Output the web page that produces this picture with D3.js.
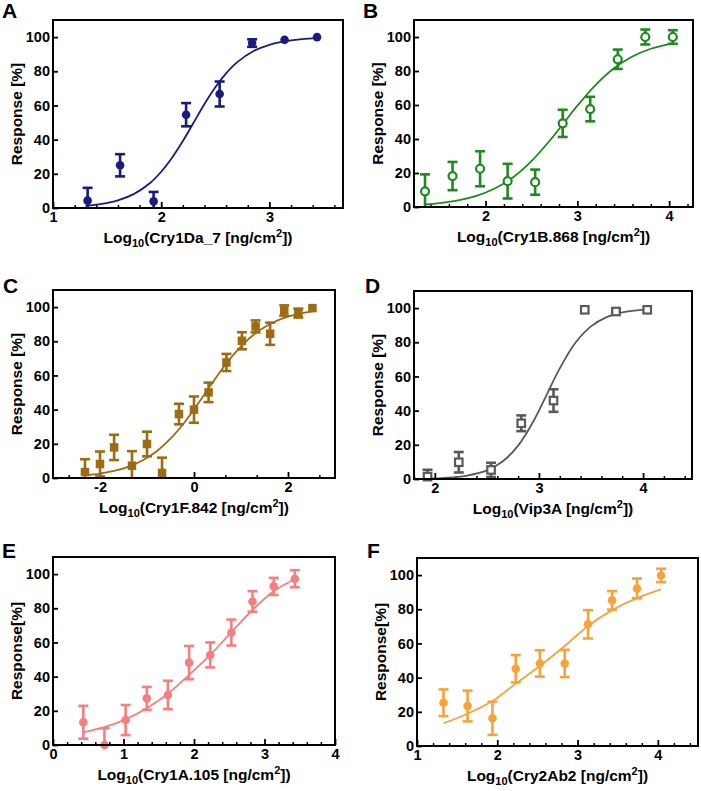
<!DOCTYPE html>
<html><head><meta charset="utf-8">
<script src="https://cdn.jsdelivr.net/npm/d3@7"></script>
<style>
html,body{margin:0;padding:0;background:#fff;}
svg text{font-family:"Liberation Sans",Arial,sans-serif;font-weight:bold;fill:#000;}
</style></head>
<body>
<svg id="chart" width="701" height="791"></svg>
<script>
// ---------- data ----------
const yTicks = [0, 20, 40, 60, 80, 100];

const aX   = [1.32, 1.62, 1.93, 2.23, 2.54, 2.84, 3.14, 3.44];
const aY   = [4.3, 25, 3.9, 54.6, 66.7, 96.5, 98.4, 100];
const aErr = [7.5, 6.5, 5.5, 6.8, 7.3, 2.2, 0, 0];
const aCurveX = [1.3,1.45,1.6,1.75,1.9,2.0,2.1,2.2,2.3,2.4,2.5,2.6,2.7,2.85,3.0,3.15,3.3,3.45];
const aCurveY = [1.24,2.37,4.47,8.27,14.8,21.2,29.4,39.2,50,60.8,70.6,78.8,85.2,91.7,95.5,97.6,98.8,99.35];
const aTicks = [1, 2, 3];

const bX   = [1.34, 1.64, 1.94, 2.24, 2.54, 2.84, 3.14, 3.44, 3.74, 4.04];
const bY   = [9.2, 18.2, 22.5, 15.2, 14.6, 49.2, 57.6, 86.9, 100, 100];
const bErr = [10, 8.3, 10.3, 10.2, 7.4, 8, 7.2, 5.7, 4.4, 4];
const bCurveX = [1.34,1.5,1.7,1.9,2.1,2.3,2.5,2.7,2.86,3.0,3.2,3.4,3.6,3.8,4.04];
const bCurveY = [1.48,2.28,3.9,6.6,10.9,17.5,27,39.1,50,59.6,71.9,81.6,88.5,93.1,96.3];
const bTicks = [2, 3, 4];

const cX   = [-2.32, -2.0, -1.7, -1.32, -1.0, -0.68, -0.32, 0, 0.31, 0.69, 1.02, 1.31, 1.62, 1.92, 2.22, 2.52];
const cY   = [3.5, 8.2, 17.9, 7.2, 19.9, 2.9, 37.4, 40, 50.1, 67.6, 80.3, 88.7, 84.4, 98, 96.5, 99.4];
const cErr = [7.5, 7.3, 7.4, 8.5, 7.2, 9, 6, 7.7, 5.7, 5, 5, 3.5, 6.5, 3, 2.6, 0];
const cCurveX = [-2.32,-2.0,-1.7,-1.4,-1.1,-0.8,-0.5,-0.2,0.1,0.4,0.7,1.0,1.3,1.6,1.9,2.2,2.52];
const cCurveY = [1.57,2.59,4.13,6.54,10.2,15.5,23.0,32.6,44.0,56.0,67.4,77.0,84.5,89.8,93.5,95.9,97.5];
const cTicks = [-2, 0, 2];

const dX   = [1.93, 2.23, 2.54, 2.83, 3.14, 3.44, 3.74, 4.04];
const dY   = [1.4, 9.8, 5.3, 32.6, 45.9, 99, 98, 99];
const dErr = [4, 6, 4.2, 4.6, 6.6, 0, 1, 0];
const dCurveX = [1.93,2.1,2.3,2.5,2.65,2.8,2.95,3.08,3.2,3.35,3.5,3.65,3.8,4.04];
const dCurveY = [0.29,0.69,1.89,5.0,10.2,19.5,34.1,50,64.7,79.7,89.3,94.7,97.5,99.2];
const dTicks = [2, 3, 4];

const eX   = [0.43, 0.73, 1.03, 1.33, 1.63, 1.93, 2.23, 2.53, 2.83, 3.13, 3.43];
const eY   = [13.3, 0, 14.6, 27.3, 29.3, 48.2, 52.7, 65.8, 84, 92.8, 97.3];
const eErr = [9.6, 9.8, 8.8, 6.7, 8.3, 9.7, 7.3, 7.6, 6, 5, 5];
const eCurveX = [0.43,0.73,1.03,1.33,1.63,1.93,2.23,2.53,2.83,3.13,3.43];
const eCurveY = [7.4,10.4,15,21.5,30,41,52.7,66,79,90,97];
const eTicks = [0, 1, 2, 3, 4];

const fX   = [1.33, 1.63, 1.94, 2.23, 2.53, 2.84, 3.13, 3.43, 3.74, 4.04];
const fY   = [25.3, 23.4, 16.2, 45.2, 48.3, 48.3, 71.2, 85.2, 92.2, 99.8];
const fErr = [7.8, 9, 9.7, 8, 7.7, 8, 8.3, 5.4, 5.8, 3.9];
const fCurveX = [1.33,1.63,1.94,2.23,2.53,2.84,3.13,3.43,3.74,4.04];
const fCurveY = [13.3,18.9,26.3,36.5,46.8,58.5,70.2,79.5,86.5,91.6];
const fTicks = [1, 2, 3, 4];

// ---------- panels ----------
const panels = [
  {id:"A", x:aX, y:aY, err:aErr, cx:aCurveX, cy:aCurveY, ticks:aTicks, xdom:[1,3.68], minorStep:0.2,
   color:"#1b1b7d", marker:"circle", fill:true, agent:"Cry1Da_7", ylab:"Response [%]",
   box:{l:53, r:343, t:20, b:208}, letter:[2,18]},
  {id:"B", x:bX, y:bY, err:bErr, cx:bCurveX, cy:bCurveY, ticks:bTicks, xdom:[1.22,4.26], minorStep:0.2,
   color:"#1f8a1f", marker:"circle", fill:false, agent:"Cry1B.868", ylab:"Response [%]",
   box:{l:414, r:693, t:20, b:207}, letter:[363,18]},
  {id:"C", x:cX, y:cY, err:cErr, cx:cCurveX, cy:cCurveY, ticks:cTicks, xdom:[-3,3], minorStep:2/3,
   color:"#9c6b12", marker:"square", fill:true, agent:"Cry1F.842", ylab:"Response [%]",
   box:{l:53, r:335, t:290, b:478}, letter:[3,293]},
  {id:"D", x:dX, y:dY, err:dErr, cx:dCurveX, cy:dCurveY, ticks:dTicks, xdom:[1.8,4.47], minorStep:0.2,
   color:"#595959", marker:"square", fill:false, agent:"Vip3A", ylab:"Response [%]",
   box:{l:414, r:692, t:291, b:479}, letter:[365,293]},
  {id:"E", x:eX, y:eY, err:eErr, cx:eCurveX, cy:eCurveY, ticks:eTicks, xdom:[0,4], minorStep:0.2,
   color:"#f47f7f", marker:"circle", fill:true, agent:"Cry1A.105", ylab:"Response[%]",
   box:{l:53, r:335, t:557, b:745}, letter:[2,558]},
  {id:"F", x:fX, y:fY, err:fErr, cx:fCurveX, cy:fCurveY, ticks:fTicks, xdom:[1,4.5], minorStep:0.2,
   color:"#f6a43a", marker:"circle", fill:true, agent:"Cry2Ab2", ylab:"Response[%]",
   box:{l:417, r:698, t:558, b:746}, letter:[367,558]}
];

const svg = d3.select("#chart");
const fmtTick = d => String(d);   // plain hyphen-minus, as in the reference

panels.forEach(p => {
  const {l, r, t, b} = p.box;
  const xs = d3.scaleLinear().domain(p.xdom).range([l, r]);
  const ys = d3.scaleLinear().domain([0, 110]).range([b, t]);
  const g = svg.append("g");

  // minor ticks
  const minor = [];
  const start = Math.ceil((p.xdom[0] - 1e-6) / p.minorStep);
  for (let k = start; k * p.minorStep <= p.xdom[1] + 1e-6; k++) {
    const v = k * p.minorStep;
    if (!p.ticks.some(tv => Math.abs(tv - v) < 1e-6)) minor.push(v);
  }
  g.append("g").attr("transform", `translate(0,${b})`)
    .call(d3.axisBottom(xs).tickValues(minor).tickSize(-3).tickFormat(""))
    .call(s => s.select(".domain").remove())
    .call(s => s.selectAll("line").attr("stroke", "#000").attr("stroke-width", 1.5));

  // major x ticks
  g.append("g").attr("transform", `translate(0,${b})`)
    .call(d3.axisBottom(xs).tickValues(p.ticks).tickSize(-6).tickPadding(4).tickFormat(fmtTick))
    .call(s => s.select(".domain").remove())
    .call(s => s.selectAll("line").attr("stroke", "#000").attr("stroke-width", 1.8))
    .call(s => s.selectAll("text").attr("font-size", 14.5).attr("font-family", null).attr("fill", "#000"));

  // y ticks
  g.append("g").attr("transform", `translate(${l},0)`)
    .call(d3.axisLeft(ys).tickValues(yTicks).tickSize(-5).tickPadding(3).tickFormat(fmtTick))
    .call(s => s.select(".domain").remove())
    .call(s => s.selectAll("line").attr("stroke", "#000").attr("stroke-width", 1.8))
    .call(s => s.selectAll("text").attr("font-size", 14.5).attr("font-family", null).attr("fill", "#000"));

  // fitted curve
  const line = d3.line().x((d, i) => xs(p.cx[i])).y(d => ys(d)).curve(d3.curveCatmullRom.alpha(0.5));
  g.append("path").attr("d", line(p.cy)).attr("fill", "none")
    .attr("stroke", p.color).attr("stroke-width", 1.8);

  // error bars
  const cap = 5;
  p.x.forEach((xv, i) => {
    const e = p.err[i];
    if (e <= 0) return;
    const px = xs(xv);
    const y1 = ys(Math.min(110, p.y[i] + e));
    const y0 = ys(Math.max(0, p.y[i] - e));
    const eg = g.append("g").attr("stroke", p.color).attr("stroke-width", 2.6);
    eg.append("line").attr("x1", px).attr("x2", px).attr("y1", y1).attr("y2", y0);
    eg.append("line").attr("x1", px - cap).attr("x2", px + cap).attr("y1", y1).attr("y2", y1);
    if (p.y[i] - e > 0)
      eg.append("line").attr("x1", px - cap).attr("x2", px + cap).attr("y1", y0).attr("y2", y0);
  });

  // markers
  p.x.forEach((xv, i) => {
    const px = xs(xv), py = ys(p.y[i]);
    if (p.marker === "circle") {
      g.append("circle").attr("cx", px).attr("cy", py)
        .attr("r", p.fill ? 4.3 : 4)
        .attr("fill", p.fill ? p.color : "#fff")
        .attr("stroke", p.color).attr("stroke-width", p.fill ? 0 : 2.2);
    } else {
      const s = p.fill ? 8.5 : 7.5;
      g.append("rect").attr("x", px - s / 2).attr("y", py - s / 2)
        .attr("width", s).attr("height", s)
        .attr("fill", p.fill ? p.color : "#fff")
        .attr("stroke", p.color).attr("stroke-width", p.fill ? 0 : 2.2);
    }
  });

  // frame
  g.append("rect").attr("x", l).attr("y", t).attr("width", r - l).attr("height", b - t)
    .attr("fill", "none").attr("stroke", "#000").attr("stroke-width", 2);

  // x title
  const xt = g.append("text").attr("x", (l + r) / 2).attr("y", b + 35)
    .attr("text-anchor", "middle").attr("font-size", 15.5);
  xt.append("tspan").text("Log");
  xt.append("tspan").text("10").attr("font-size", 11).attr("dy", 4);
  xt.append("tspan").text("(" + p.agent + " [ng/cm").attr("dy", -4);
  xt.append("tspan").text("2").attr("font-size", 11).attr("dy", -6);
  xt.append("tspan").text("])").attr("dy", 6);

  // y title
  g.append("text").attr("transform", `translate(${l - 36},${(t + b) / 2}) rotate(-90)`)
    .attr("text-anchor", "middle").attr("dy", "0.35em").attr("font-size", 15.5).text(p.ylab);

  // panel letter
  g.append("text").attr("x", p.letter[0]).attr("y", p.letter[1]).attr("font-size", 21).text(p.id);
});
</script>
</body></html>
